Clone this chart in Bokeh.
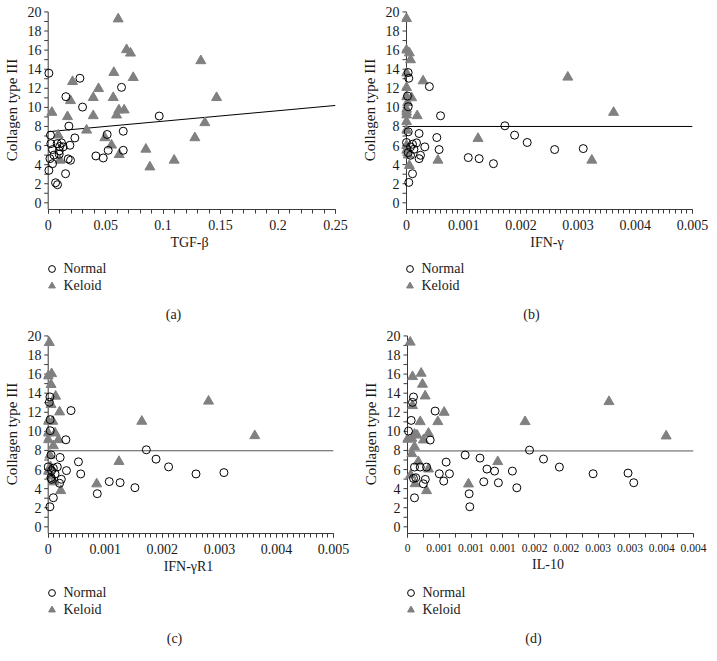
from bokeh.plotting import figure
from bokeh.layouts import column, row
from bokeh.models import (Range1d, FixedTicker, Legend, LegendItem, Label,
                          CustomJSTickFormatter)
from bokeh.embed import file_html
from bokeh.resources import INLINE

# ---------------- data ----------------
y_ticks = [0, 2, 4, 6, 8, 10, 12, 14, 16, 18, 20]
y_minor_ticks = [1, 3, 5, 7, 9, 11, 13, 15, 17, 19]
y_title = "Collagen type III"
series_names = ["Normal", "Keloid"]

# (a) TGF-beta
a_xticks = [0, 0.05, 0.1, 0.15, 0.2, 0.25]
a_xlabels = ["0", "0.05", "0.1", "0.15", "0.2", "0.25"]
a_normal_x = [0.0006, 0.0276, 0.0638, 0.0154, 0.0299, 0.0966, 0.0180, 0.0020, 0.0653, 0.0513,
              0.0232, 0.0023, 0.0078, 0.0116, 0.0189, 0.0130, 0.0038, 0.0096, 0.0522, 0.0653,
              0.0096, 0.0415, 0.0479, 0.0174, 0.0194, 0.0015, 0.0038, 0.0006, 0.0151, 0.0064,
              0.0081, 0.0100, 0.0050]
a_normal_y = [13.58, 13.05, 12.10, 11.12, 10.03, 9.09, 8.04, 7.09, 7.50, 7.16,
              6.80, 6.20, 6.20, 6.28, 6.03, 5.86, 5.58, 5.44, 5.50, 5.50,
              5.09, 4.91, 4.70, 4.60, 4.46, 4.63, 4.10, 3.40, 3.05, 2.10,
              1.90, 5.90, 5.00]
a_keloid_x = [0.0609, 0.0682, 0.0716, 0.1328, 0.0571, 0.0740, 0.0212, 0.0438, 0.0392, 0.0566,
              0.1465, 0.0194, 0.0615, 0.0661, 0.0595, 0.0032, 0.0168, 0.0392, 0.1363, 0.0334,
              0.1276, 0.0493, 0.0551, 0.0618, 0.0850, 0.1096, 0.0885, 0.0087, 0.0102]
a_keloid_y = [19.26, 16.04, 15.68, 14.88, 13.65, 13.12, 12.70, 11.96, 11.02, 11.02,
              11.02, 10.70, 9.72, 9.72, 9.19, 9.47, 9.02, 9.12, 8.39, 7.61,
              6.81, 6.81, 6.04, 5.05, 5.61, 4.46, 3.75, 7.09, 4.46]
a_fit = [7.45, 11.0]  # intercept, slope

# (b) IFN-gamma
b_xticks = [0, 0.001, 0.002, 0.003, 0.004, 0.005]
b_xlabels = ["0", "0.001", "0.002", "0.003", "0.004", "0.005"]
b_normal_x = [0.000029, 0.00004, 0.0004, 0.0000175, 0.00003, 0.000595, 0.00172, 0.00189, 0.00022, 0.00053,
              0.00211, 0.0, 0.000105, 0.000175, 0.00032, 0.00057, 0.00259, 0.00309, 0.00007, 0.00013,
              0.00003, 0.00007, 0.000245, 0.00022, 0.00108, 0.00127, 0.00152, 0.000105, 0.00004, 0.00003]
b_normal_y = [13.65, 13.05, 12.18, 11.19, 10.07, 9.12, 8.07, 7.09, 7.26, 6.84,
              6.32, 6.32, 6.14, 6.28, 5.86, 5.58, 5.58, 5.68, 5.86, 5.61,
              5.26, 4.98, 4.98, 4.63, 4.74, 4.63, 4.10, 3.05, 2.14, 7.44]
b_keloid_x = [0.0, 0.0, 0.00005, 0.00007, 0.0, 0.00029, 0.0, 0.0, 0.00009, 0.0,
              0.0, 0.000187, 0.0, 0.0, 0.0, 0.0, 0.00005, 0.00125, 0.00055, 0.00282,
              0.00362, 0.00324, 0.00002, 0.0, 0.00003]
b_keloid_y = [19.3, 16.0, 15.7, 14.98, 13.6, 12.77, 12.07, 11.1, 11.0, 9.8,
              9.5, 9.12, 8.5, 7.6, 6.0, 5.5, 3.9, 6.74, 4.46, 13.16,
              9.47, 4.46, 10.5, 9.2, 5.0]
b_fit = [8.0, 0.0]

# (c) IFN-gamma R1
c_xticks = [0, 0.001, 0.002, 0.003, 0.004, 0.005]
c_xlabels = ["0", "0.001", "0.002", "0.003", "0.004", "0.005"]
c_normal_x = [0.00003, 0.00002, 0.0004, 0.000035, 0.000035, 0.00031, 0.00172, 0.00189, 0.00021, 0.00053,
              0.00211, 0.0, 0.00009, 0.00016, 0.00032, 0.00057, 0.00259, 0.00308, 0.00006, 0.00012,
              0.00005, 0.00006, 0.00023, 0.0002, 0.00107, 0.00126, 0.00152, 0.00086, 0.00009, 0.00003,
              0.00005]
c_normal_y = [13.61, 13.05, 12.18, 11.23, 10.07, 9.12, 8.07, 7.09, 7.26, 6.81,
              6.28, 6.28, 6.14, 6.28, 5.89, 5.54, 5.54, 5.68, 5.89, 5.54,
              5.16, 4.98, 4.98, 4.56, 4.74, 4.63, 4.10, 3.47, 3.05, 2.10,
              7.54]
c_keloid_x = [0.00002, 0.0, 0.00006, 0.00005, 0.00013, 0.00005, 0.0002, 0.0, 0.00008, 0.00164,
              0.0, 0.00012, 0.00018, 0.0, 0.00009, 0.00003, 0.00124, 0.00085, 0.0001, 0.00022,
              0.0, 0.00005, 0.00281, 0.00362, 0.00004]
c_keloid_y = [19.3, 15.8, 16.04, 14.9, 13.68, 12.8, 12.03, 11.05, 11.05, 11.05,
              9.82, 9.82, 9.12, 9.12, 8.49, 7.5, 6.84, 4.49, 4.7, 3.79,
              5.8, 5.3, 13.16, 9.54, 6.3]
c_fit = [7.97, 0.0]

# (d) IL-10
d_xticks = [0, 0.0005, 0.001, 0.0015, 0.002, 0.0025, 0.003, 0.0035, 0.004, 0.0045]
d_xlabels = ["0", "0.001", "0.001", "0.001", "0.002", "0.002", "0.003", "0.003", "0.004", "0.004"]
d_normal_x = [0.0000944, 0.0000787, 0.000435, 0.0000577, 0.0000157, 0.000357, 0.00192, 0.000907, 0.00214, 0.00114,
              0.000608, 0.00239, 0.00011, 0.0002, 0.0003, 0.00125, 0.00137, 0.00165, 0.0005, 0.00066,
              0.00292, 0.00347, 0.00356, 0.0000944, 0.00013, 0.00028, 0.00057, 0.0012, 0.00143, 0.00025,
              0.00172, 0.00097, 0.00011, 0.00098]
d_normal_y = [13.6, 13.04, 12.13, 11.15, 10.03, 9.09, 8.04, 7.52, 7.1, 7.2,
              6.78, 6.26, 6.26, 6.26, 6.26, 6.05, 5.84, 5.84, 5.56, 5.56,
              5.56, 5.63, 4.62, 5.07, 5.14, 4.97, 4.79, 4.72, 4.62, 4.51,
              4.09, 3.46, 3.04, 2.1]
d_keloid_x = [0.000042, 0.0000787, 0.000215, 0.000236, 0.000278, 0.0000787, 0.000577, 0.0002, 0.000477, 0.00185,
              0.00317, 0.00407, 0.000068, 0.0, 0.00011, 0.00025, 0.00033, 0.00015, 0.00011, 0.000068,
              0.00017, 0.00033, 0.00142, 0.00096, 0.00012, 0.0003, 0.00005]
d_keloid_y = [19.34, 15.73, 16.08, 14.93, 13.7, 12.69, 11.99, 11.01, 11.01, 11.01,
              13.11, 9.51, 9.27, 9.16, 9.7, 9.09, 9.79, 9.6, 8.39, 7.66,
              6.82, 6.05, 6.82, 4.48, 4.51, 3.78, 5.42]
d_fit = [7.95, 0.0]

# ---------------- styling ----------------
FONT = "Liberation Serif"
AXIS_COL = "#3a3a3a"
TXT_COL = "#1a1a1a"
TRI_COL = "#808080"
Y_MIN, Y_MAX = -0.7, 20.15
Y_AXIS_TOP = 20
TICK_PX = 4
FIG_W = 354
LEG_H = 72
LEG_TOP = 3          # legend top, px below strip top
LEG_ROW = 17         # legend row height
CAP_FROM_TOP = 56.5  # caption centre, px below strip top


def make_panel(xticks, xlabels, minor_step, xlabel, caption,
               nx, ny, kx, ky, fit, fit_color,
               frame_w, left, top, pad, legend_left, caption_x, xtick_font="14px"):
    xmax = xticks[-1]
    axis_px = frame_w - pad
    px_per_unit = axis_px / xmax
    xmin = -pad / px_per_unit
    n_minor = int(round(xmax / minor_step))
    minor = [i * minor_step for i in range(n_minor + 1)]
    right = FIG_W - left - frame_w
    p = figure(frame_width=frame_w, frame_height=199,
               output_backend="svg", toolbar_location=None,
               x_range=Range1d(xmin, xmax), y_range=Range1d(Y_MIN, Y_MAX),
               min_border_left=left, min_border_right=right,
               min_border_top=top, min_border_bottom=48)
    p.outline_line_color = None
    p.xgrid.visible = False
    p.ygrid.visible = False
    p.background_fill_color = "white"
    p.border_fill_color = "white"

    p.xaxis.ticker = FixedTicker(ticks=xticks, minor_ticks=minor)
    p.xaxis.formatter = CustomJSTickFormatter(args=dict(labels=xlabels),
                                              code="return labels[index];")
    p.xaxis.bounds = (0, xmax)
    p.xaxis.axis_line_color = AXIS_COL
    p.xaxis.major_tick_line_color = AXIS_COL
    p.xaxis.minor_tick_line_color = AXIS_COL
    p.xaxis.major_tick_in = 0
    p.xaxis.major_tick_out = TICK_PX
    p.xaxis.minor_tick_in = 0
    p.xaxis.minor_tick_out = TICK_PX
    p.xaxis.major_label_standoff = 6

    # y axis: labels/title from Bokeh's axis; line and ticks drawn at x = 0
    p.yaxis.ticker = FixedTicker(ticks=y_ticks, minor_ticks=y_minor_ticks)
    p.yaxis.axis_line_color = None
    p.yaxis.major_tick_line_color = None
    p.yaxis.minor_tick_line_color = None
    p.yaxis.major_tick_in = 0
    p.yaxis.major_tick_out = 0
    p.yaxis.minor_tick_in = 0
    p.yaxis.minor_tick_out = 0
    p.yaxis.major_label_standoff = 2
    for ax in (p.xaxis, p.yaxis):
        ax.major_label_text_font = FONT
        ax.major_label_text_color = TXT_COL
        ax.axis_label_text_font = FONT
        ax.axis_label_text_font_style = "normal"
        ax.axis_label_text_color = TXT_COL
    p.yaxis.major_label_text_font_size = "14px"
    p.xaxis.major_label_text_font_size = xtick_font
    p.xaxis.axis_label_text_font_size = "14px"
    p.yaxis.axis_label_text_font_size = "15px"
    p.xaxis.axis_label = xlabel
    p.yaxis.axis_label = y_title
    p.xaxis.axis_label_standoff = 2
    p.yaxis.axis_label_standoff = 5

    tick_len = TICK_PX / px_per_unit
    all_y = y_ticks + y_minor_ticks
    p.segment(x0=[0] * len(all_y), y0=all_y, x1=[-tick_len] * len(all_y), y1=all_y,
              line_color=AXIS_COL, line_width=1)
    p.segment(x0=[0], y0=[Y_MIN], x1=[0], y1=[Y_AXIS_TOP], line_color=AXIS_COL, line_width=1)

    p.line([0, xmax], [fit[0], fit[0] + fit[1] * xmax], line_color=fit_color, line_width=1)
    p.scatter(kx, ky, marker="triangle", size=10, fill_color=TRI_COL, line_color=TRI_COL)
    p.scatter(nx, ny, marker="circle", size=8, fill_color=None, line_color="black",
              line_width=1)

    # legend + caption strip (same horizontal borders so frames line up)
    q = figure(frame_width=frame_w, frame_height=LEG_H,
               output_backend="svg", toolbar_location=None,
               x_axis_type=None, y_axis_type=None,
               min_border_left=left, min_border_right=right,
               min_border_top=0, min_border_bottom=0,
               x_range=Range1d(0, 1), y_range=Range1d(-2, -1))
    q.outline_line_color = None
    q.xgrid.visible = False
    q.ygrid.visible = False
    q.border_fill_color = "white"
    # series copies that fall outside this strip's range: they only feed the legend glyphs
    rn = q.scatter(nx, ny, marker="circle", size=8, fill_color=None, line_color="black",
                   line_width=1)
    rk = q.scatter(kx, ky, marker="triangle", size=10, fill_color=TRI_COL, line_color=TRI_COL)
    legend = Legend(items=[LegendItem(label=series_names[0], renderers=[rn]),
                           LegendItem(label=series_names[1], renderers=[rk])],
                    location=(legend_left - left, LEG_H - LEG_TOP - 2 * LEG_ROW),
                    orientation="vertical")
    legend.margin = 0
    legend.padding = 0
    legend.spacing = 0
    legend.glyph_width = LEG_ROW
    legend.glyph_height = LEG_ROW
    legend.label_height = LEG_ROW
    legend.label_standoff = 4
    legend.label_text_font = FONT
    legend.label_text_font_size = "14px"
    legend.label_text_color = TXT_COL
    legend.border_line_color = None
    legend.background_fill_color = None
    q.add_layout(legend, "center")
    q.add_layout(Label(x=caption_x - left, y=LEG_H - CAP_FROM_TOP,
                       x_units="screen", y_units="screen",
                       text=caption, text_align="center", text_baseline="middle",
                       text_font=FONT, text_font_size="14px", text_color=TXT_COL))
    return column(p, q, spacing=0)


pa = make_panel(a_xticks, a_xlabels, 0.01, "TGF-β", "(a)",
                a_normal_x, a_normal_y, a_keloid_x, a_keloid_y, a_fit, "black",
                292, 39, 10, 4.7, 38.5, 169)
pb = make_panel(b_xticks, b_xlabels, 0.0001, "IFN-γ", "(b)",
                b_normal_x, b_normal_y, b_keloid_x, b_keloid_y, b_fit, "black",
                291, 43, 10, 5.0, 42.5, 173)
pc = make_panel(c_xticks, c_xlabels, 0.0001, "IFN-γR1", "(c)",
                c_normal_x, c_normal_y, c_keloid_x, c_keloid_y, c_fit, "#555555",
                290, 38, 5, 4.7, 37.5, 169)
pd = make_panel(d_xticks, d_xlabels, 0.00025, "IL-10", "(d)",
                d_normal_x, d_normal_y, d_keloid_x, d_keloid_y, d_fit, "#555555",
                291, 42, 5, 5.0, 41.5, 173, xtick_font="11.5px")

layout = column(row(pa, pb, spacing=0), row(pc, pd, spacing=0), spacing=0)
open("out.html", "w").write(file_html(layout, INLINE))
